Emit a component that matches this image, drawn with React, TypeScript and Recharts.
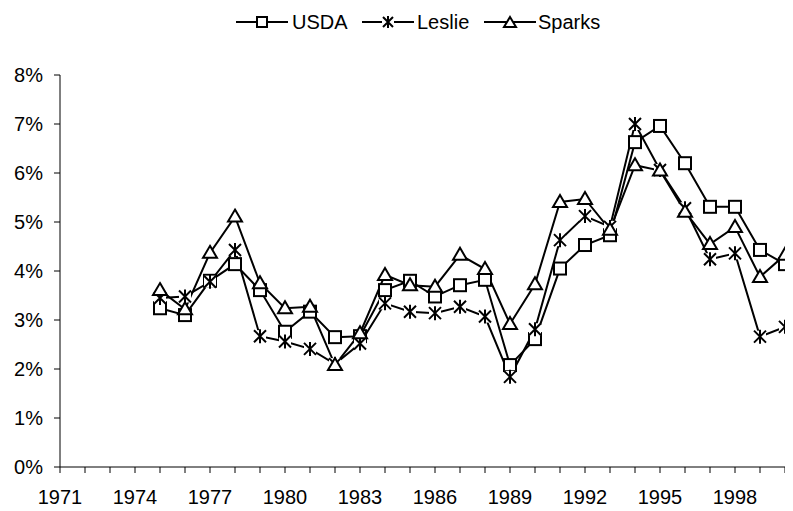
import React from "react";
import { LineChart, Line, XAxis, YAxis } from "recharts";

const years = [1975,1976,1977,1978,1979,1980,1981,1982,1983,1984,1985,1986,1987,1988,1989,1990,1991,1992,1993,1994,1995,1996,1997,1998,1999,2000];
const usda = [3.24,3.1,3.8,4.14,3.61,2.76,3.17,2.65,2.67,3.61,3.8,3.48,3.71,3.82,2.08,2.61,4.05,4.53,4.73,6.63,6.96,6.2,5.31,5.31,4.43,4.14];
const leslie = [3.45,3.48,3.78,4.43,2.67,2.56,2.41,2.1,2.52,3.34,3.17,3.14,3.27,3.07,1.84,2.81,4.63,5.12,4.9,7.0,6.06,5.28,4.24,4.36,2.66,2.86];
const sparks = [3.61,3.22,4.37,5.11,3.75,3.24,3.27,2.08,2.73,3.92,3.71,3.68,4.33,4.04,2.92,3.73,5.41,5.47,4.84,6.16,6.05,5.21,4.55,4.9,3.88,4.33];

const axisYears = Array.from({ length: 30 }, (_, i) => 1971 + i);
const labelYears = [1971,1974,1977,1980,1983,1986,1989,1992,1995,1998];
const yTicks = [0,1,2,3,4,5,6,7,8];

const data = years.map((y, i) => ({ year: y, USDA: usda[i], Leslie: leslie[i], Sparks: sparks[i] }));

const FONT = '"Liberation Sans", Arial, sans-serif';

const SquareDot = (props: any) => {
  const { cx, cy, key } = props;
  if (cx == null || cy == null) return null;
  return <rect key={key} x={cx - 6} y={cy - 6} width={12} height={12} fill="#fff" stroke="#000" strokeWidth={2} />;
};

const StarDot = (props: any) => {
  const { cx, cy, key } = props;
  if (cx == null || cy == null) return null;
  const r = 6;
  return (
    <g key={key}>
      <rect x={cx - 6} y={cy - 6} width={12} height={12} fill="#fff" />
      <path d={`M${cx - r},${cy - r}L${cx + r},${cy + r}M${cx - r},${cy + r}L${cx + r},${cy - r}M${cx},${cy - r - 1}L${cx},${cy + r + 1}`} stroke="#000" strokeWidth={2} fill="none" />
    </g>
  );
};

const TriDot = (props: any) => {
  const { cx, cy, key } = props;
  if (cx == null || cy == null) return null;
  return <path key={key} d={`M${cx},${cy - 7}L${cx + 7},${cy + 5}L${cx - 7},${cy + 5}Z`} fill="#fff" stroke="#000" strokeWidth={2} strokeLinejoin="miter" />;
};

const XTick = (props: any) => {
  const { x, y, payload } = props;
  if (!labelYears.includes(payload.value)) return null;
  return (
    <text x={x} y={y} dy="0.71em" textAnchor="middle" fontFamily={FONT} fontSize={20} fill="#000">
      {payload.value}
    </text>
  );
};

const LegendItem = ({ kind, label, left, textLeft }: any) => {
  let marker: any;
  if (kind === "square") marker = <rect x={21} y={5} width={10} height={10} fill="#fff" stroke="#000" strokeWidth={2} />;
  else if (kind === "star")
    marker = (
      <g>
        <rect x={20} y={4} width={12} height={12} fill="#fff" />
        <path d="M21,5L31,15M21,15L31,5M26,4L26,16" stroke="#000" strokeWidth={2} />
      </g>
    );
  else marker = <path d="M26,5L32,15L20,15Z" fill="#fff" stroke="#000" strokeWidth={2} />;
  return (
    <>
      <svg style={{ position: "absolute", left, top: 4 }} width={52} height={20}>
        <line x1={0} y1={10} x2={52} y2={10} stroke="#000" strokeWidth={2} />
        {marker}
      </svg>
      <span style={{ position: "absolute", left: textLeft, top: 1, fontFamily: FONT, fontSize: 20, lineHeight: "26px", color: "#000", whiteSpace: "nowrap" }}>
        {label}
      </span>
    </>
  );
};

export default function App() {
  return (
    <div style={{ position: "relative", width: 785, height: 503, overflow: "visible" }}>
      <div style={{ position: "absolute", left: 0, top: 0, width: 785, height: 30 }}>
        <LegendItem kind="square" label="USDA" left={228} textLeft={284} />
        <LegendItem kind="star" label="Leslie" left={354} textLeft={409} />
        <LegendItem kind="tri" label="Sparks" left={476} textLeft={530} />
      </div>
      <LineChart width={785} height={503} data={data} margin={{ top: 67, right: 8, bottom: 0, left: 0 }} style={{ overflow: "visible" }}>
        <XAxis
          dataKey="year"
          type="number"
          domain={[1971, 2000]}
          ticks={axisYears}
          interval={0}
          tick={<XTick />}
          tickSize={6}
          tickMargin={17}
          height={44}
          axisLine={{ stroke: "#000", strokeWidth: 1 }}
          tickLine={{ stroke: "#000", strokeWidth: 1 }}
        />
        <YAxis
          type="number"
          domain={[0, 8]}
          ticks={yTicks}
          interval={0}
          width={52}
          tickSize={6}
          tickMargin={11}
          tickFormatter={(v: number) => `${v}%`}
          tick={{ fontFamily: FONT, fontSize: 20, fill: "#000" }}
          axisLine={{ stroke: "#000", strokeWidth: 1 }}
          tickLine={{ stroke: "#000", strokeWidth: 1 }}
        />
        <Line dataKey="USDA" stroke="#000" strokeWidth={2} dot={<SquareDot />} isAnimationActive={false} />
        <Line dataKey="Leslie" stroke="#000" strokeWidth={2} dot={<StarDot />} isAnimationActive={false} />
        <Line dataKey="Sparks" stroke="#000" strokeWidth={2} dot={<TriDot />} isAnimationActive={false} />
      </LineChart>
    </div>
  );
}
